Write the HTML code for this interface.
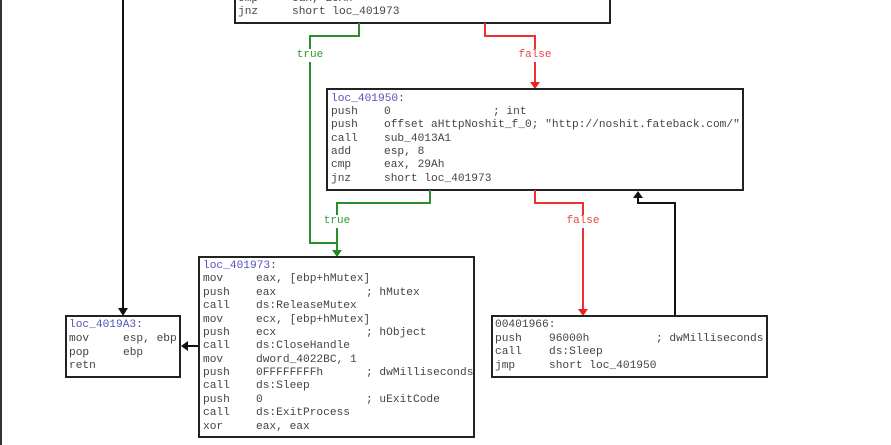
<!DOCTYPE html>
<html><head><meta charset="utf-8"><style>
html,body{margin:0;padding:0;background:#fff;width:891px;height:445px;overflow:hidden}
svg text{font-family:"Liberation Mono",monospace;font-size:11.2px;fill:#444;dominant-baseline:central}
svg text.l{fill:#5555bb}
svg text.g{fill:#2e9a2e;font-size:11px}
svg text.r{fill:#ee4444;font-size:11px}
</style></head><body>
<svg width="891" height="445" viewBox="0 0 891 445" xmlns="http://www.w3.org/2000/svg">
<line x1="1" y1="0" x2="1" y2="445" stroke="#333" stroke-width="2"/>
<polyline points="123,0 123,309" fill="none" stroke="#111" stroke-width="2"/>
<path d="M118,308 L128,308 L123,316z" fill="#111"/>
<line x1="199" y1="346" x2="187" y2="346" stroke="#111" stroke-width="2"/>
<path d="M188,341 L188,351 L181,346z" fill="#111"/>

<rect x="235" y="-10" width="375" height="33" fill="#fff" stroke="#222" stroke-width="2"/>
<text x="238" y="-1">cmp</text><text x="292" y="-1">eax, 29Ah</text>
<text x="238" y="12">jnz</text><text x="292" y="12">short loc_401973</text>

<polyline points="359,23 359,36 310,36 310,49" fill="none" stroke="#2a8f2a" stroke-width="2"/>
<text class="g" x="310" y="55" text-anchor="middle">true</text>
<polyline points="310,62 310,243 337,243 337,250" fill="none" stroke="#2a8f2a" stroke-width="2"/>
<polyline points="485,23 485,36 535,36 535,49" fill="none" stroke="#ee3030" stroke-width="2"/>
<text class="r" x="535" y="55" text-anchor="middle">false</text>
<line x1="535" y1="62" x2="535" y2="83" stroke="#ee3030" stroke-width="2"/>
<path d="M530,82 L540,82 L535,89z" fill="#ee2020"/>

<rect x="327" y="89" width="416" height="101" fill="#fff" stroke="#222" stroke-width="2"/>
<text class="l" x="331" y="99">loc_401950<tspan style="fill:#444">:</tspan></text>
<text x="331" y="112">push</text><text x="384" y="112">0</text><text x="493" y="112">; int</text>
<text x="331" y="125">push</text><text x="384" y="125">offset aHttpNoshit_f_0; "http://noshit.fateback.com/"</text>
<text x="331" y="139">call</text><text x="384" y="139">sub_4013A1</text>
<text x="331" y="152">add</text><text x="384" y="152">esp, 8</text>
<text x="331" y="165">cmp</text><text x="384" y="165">eax, 29Ah</text>
<text x="331" y="179">jnz</text><text x="384" y="179">short loc_401973</text>

<polyline points="430,190 430,203 337,203 337,215" fill="none" stroke="#2a8f2a" stroke-width="2"/>
<text class="g" x="337" y="221" text-anchor="middle">true</text>
<line x1="337" y1="228" x2="337" y2="251" stroke="#2a8f2a" stroke-width="2"/>
<path d="M332,250 L342,250 L337,257z" fill="#1f8a1f"/>
<polyline points="535,190 535,203 583,203 583,215" fill="none" stroke="#ee3030" stroke-width="2"/>
<text class="r" x="583" y="221" text-anchor="middle">false</text>
<line x1="583" y1="228" x2="583" y2="310" stroke="#ee3030" stroke-width="2"/>
<path d="M578,309 L588,309 L583,316z" fill="#ee2020"/>
<polyline points="675,316 675,203 638,203 638,197" fill="none" stroke="#111" stroke-width="2"/>
<path d="M633,198 L643,198 L638,191z" fill="#111"/>

<rect x="66" y="316" width="114" height="61" fill="#fff" stroke="#222" stroke-width="2"/>
<text class="l" x="69" y="325">loc_4019A3<tspan style="fill:#444">:</tspan></text>
<text x="69" y="339">mov</text><text x="123" y="339">esp, ebp</text>
<text x="69" y="353">pop</text><text x="123" y="353">ebp</text>
<text x="69" y="366">retn</text>

<rect x="199" y="257" width="275" height="180" fill="#fff" stroke="#222" stroke-width="2"/>
<text class="l" x="203" y="266">loc_401973<tspan style="fill:#444">:</tspan></text>
<text x="203" y="279">mov</text><text x="256" y="279">eax, [ebp+hMutex]</text>
<text x="203" y="293">push</text><text x="256" y="293">eax</text><text x="366" y="293">; hMutex</text>
<text x="203" y="306">call</text><text x="256" y="306">ds:ReleaseMutex</text>
<text x="203" y="320">mov</text><text x="256" y="320">ecx, [ebp+hMutex]</text>
<text x="203" y="333">push</text><text x="256" y="333">ecx</text><text x="366" y="333">; hObject</text>
<text x="203" y="346">call</text><text x="256" y="346">ds:CloseHandle</text>
<text x="203" y="360">mov</text><text x="256" y="360">dword_4022BC, 1</text>
<text x="203" y="373">push</text><text x="256" y="373">0FFFFFFFFh</text><text x="366" y="373">; dwMilliseconds</text>
<text x="203" y="386">call</text><text x="256" y="386">ds:Sleep</text>
<text x="203" y="400">push</text><text x="256" y="400">0</text><text x="366" y="400">; uExitCode</text>
<text x="203" y="413">call</text><text x="256" y="413">ds:ExitProcess</text>
<text x="203" y="427">xor</text><text x="256" y="427">eax, eax</text>

<rect x="492" y="316" width="275" height="61" fill="#fff" stroke="#222" stroke-width="2"/>
<text x="495" y="325">00401966:</text>
<text x="495" y="339">push</text><text x="549" y="339">96000h</text><text x="656" y="339">; dwMilliseconds</text>
<text x="495" y="352">call</text><text x="549" y="352">ds:Sleep</text>
<text x="495" y="366">jmp</text><text x="549" y="366">short loc_401950</text>
</svg>
</body></html>
